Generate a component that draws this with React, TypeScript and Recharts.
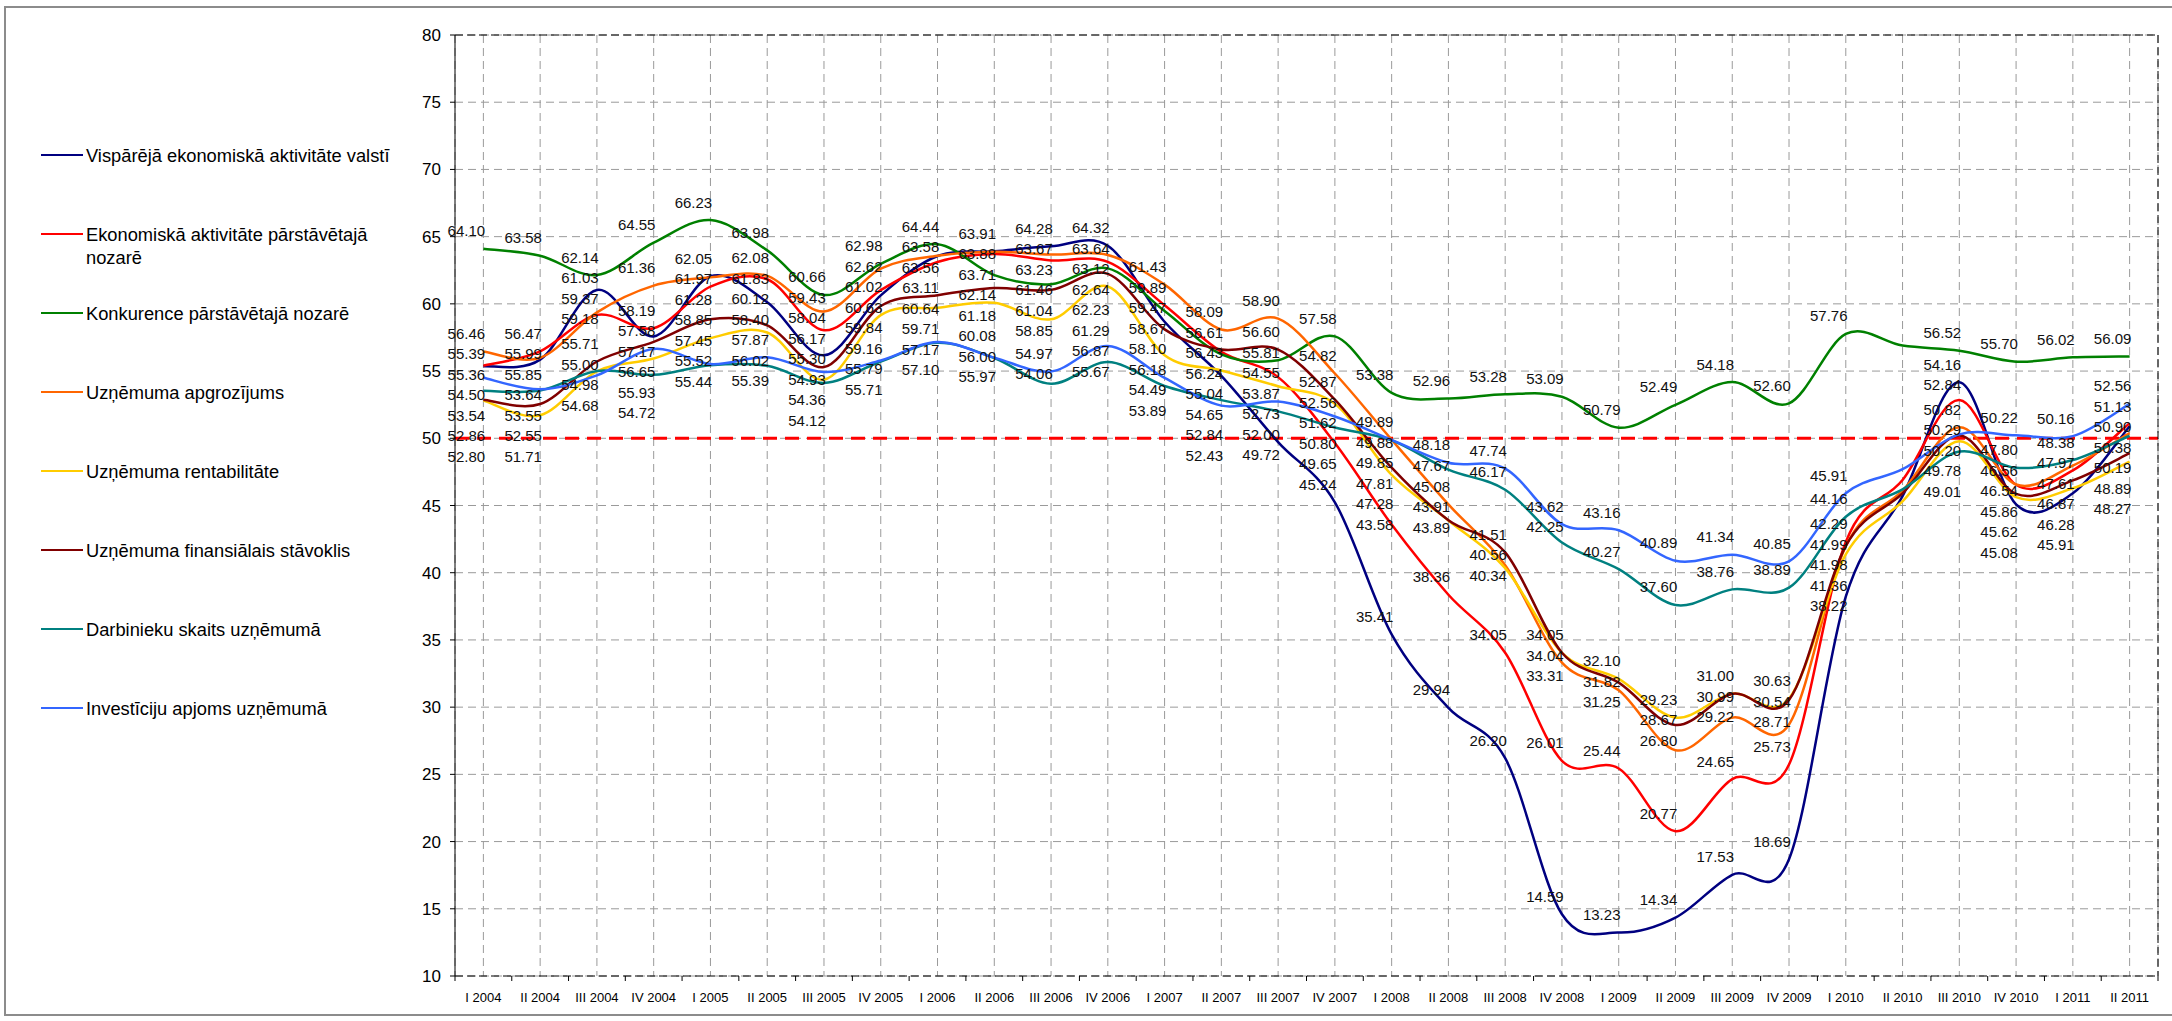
import React from "react";
import {
  LineChart,
  Line,
  XAxis,
  YAxis,
  CartesianGrid,
  ReferenceLine,
  LabelList,
} from "recharts";

const quarters = [
  "I 2004", "II 2004", "III 2004", "IV 2004",
  "I 2005", "II 2005", "III 2005", "IV 2005",
  "I 2006", "II 2006", "III 2006", "IV 2006",
  "I 2007", "II 2007", "III 2007", "IV 2007",
  "I 2008", "II 2008", "III 2008", "IV 2008",
  "I 2009", "II 2009", "III 2009", "IV 2009",
  "I 2010", "II 2010", "III 2010", "IV 2010",
  "I 2011", "II 2011",
];

// quarters whose points carry no value labels in the original
const unlabeled = ["II 2010"];

const economyCountry = [
  55.36, 55.85, 61.03, 57.58, 62.05, 60.12, 56.17, 60.63, 63.56, 63.91, 64.28, 64.32,
  58.67, 54.65, 49.72, 45.24, 35.41, 29.94, 26.2, 14.59, 13.23, 14.34, 17.53, 18.69,
  38.22, 45.7, 54.16, 45.08, 45.91, 50.9,
];
const economySector = [
  55.39, 56.47, 59.18, 58.19, 61.28, 61.83, 58.04, 61.02, 63.11, 63.71, 63.23, 63.12,
  59.89, 56.43, 54.55, 49.65, 43.58, 38.36, 34.05, 26.01, 25.44, 20.77, 24.65, 25.73,
  42.29, 46.9, 52.84, 46.54, 47.61, 51.13,
];
const competition = [
  64.1, 63.58, 62.14, 64.55, 66.23, 63.98, 60.66, 62.98, 64.44, 62.14, 61.46, 62.64,
  59.47, 56.24, 55.81, 57.58, 53.38, 52.96, 53.28, 53.09, 50.79, 52.49, 54.18, 52.6,
  57.76, 56.9, 56.52, 55.7, 56.02, 56.09,
];
const turnover = [
  56.46, 55.99, 59.37, 61.36, 61.97, 62.08, 59.43, 62.62, 63.58, 63.88, 63.67, 63.64,
  61.43, 58.09, 58.9, 54.82, 49.89, 45.08, 40.56, 33.31, 31.25, 26.8, 29.22, 28.71,
  41.98, 46.1, 50.82, 46.56, 47.97, 50.38,
];
const profitability = [
  52.8, 51.71, 54.98, 55.93, 57.45, 57.87, 54.36, 59.16, 59.71, 60.08, 58.85, 61.29,
  56.18, 55.04, 53.87, 52.56, 47.28, 43.89, 40.34, 34.04, 32.1, 29.23, 31.0, 30.63,
  41.36, 45.3, 49.78, 45.62, 46.28, 48.27,
];
const financial = [
  52.86, 52.55, 55.71, 57.17, 58.85, 58.4, 55.3, 59.84, 60.64, 61.18, 61.04, 62.23,
  58.1, 56.61, 56.6, 52.87, 47.81, 43.91, 41.51, 34.05, 31.82, 28.67, 30.99, 30.54,
  41.99, 45.9, 50.2, 45.86, 46.87, 48.89,
];
const employees = [
  53.54, 53.55, 55.0, 54.72, 55.44, 55.39, 54.12, 55.71, 57.1, 55.97, 54.06, 55.67,
  53.89, 52.84, 52.0, 50.8, 49.85, 47.67, 46.17, 42.25, 40.27, 37.6, 38.76, 38.89,
  44.16, 46.2, 49.01, 47.8, 48.38, 50.19,
];
const investment = [
  54.5, 53.64, 54.68, 56.65, 55.52, 56.02, 54.93, 55.79, 57.17, 56.0, 54.97, 56.87,
  54.49, 52.43, 52.73, 51.62, 49.88, 48.18, 47.74, 43.62, 43.16, 40.89, 41.34, 40.85,
  45.91, 47.7, 50.29, 50.22, 50.16, 52.56,
];

const seriesKeys = [
  "economyCountry", "economySector", "competition", "turnover",
  "profitability", "financial", "employees", "investment",
];
const seriesNames = [
  "Vispārējā ekonomiskā aktivitāte valstī",
  "Ekonomiskā aktivitāte pārstāvētajā nozarē",
  "Konkurence pārstāvētajā nozarē",
  "Uzņēmuma apgrozījums",
  "Uzņēmuma rentabilitāte",
  "Uzņēmuma finansiālais stāvoklis",
  "Darbinieku skaits uzņēmumā",
  "Investīciju apjoms uzņēmumā",
];
const seriesValues = [
  economyCountry, economySector, competition, turnover,
  profitability, financial, employees, investment,
];
const seriesColors = [
  "#000080", "#FF0000", "#008000", "#FF6600",
  "#FFCC00", "#800000", "#008080", "#3366FF",
];

const yTicks = [10, 15, 20, 25, 30, 35, 40, 45, 50, 55, 60, 65, 70, 75, 80];

const rows = quarters.map((q, i) => {
  const row: Record<string, any> = { q };
  seriesKeys.forEach((k, s) => (row[k] = seriesValues[s][i]));
  return row;
});

// chart geometry
const W = 2172;
const H = 1021;
const M = { top: 35, right: 13, bottom: 5, left: 395 };
const Y_AXIS_W = 60;
const X_AXIS_H = 40;
const PLOT_W = W - M.left - Y_AXIS_W - M.right - 1;
const PLOT_H = H - M.top - M.bottom - X_AXIS_H;
const BAND = PLOT_W / quarters.length;
const PX_PER_UNIT = PLOT_H / (yTicks[yTicks.length - 1] - yTicks[0]);

// Excel-like smoothed line (bezier through points, 1/6 tangents)
function smoothCurve(context: any) {
  let pts: number[][] = [];
  return {
    areaStart() {},
    areaEnd() {},
    lineStart() {
      pts = [];
    },
    lineEnd() {
      if (!pts.length) return;
      context.moveTo(pts[0][0], pts[0][1]);
      for (let i = 0; i < pts.length - 1; i++) {
        const p0 = pts[i - 1] || pts[i];
        const p1 = pts[i];
        const p2 = pts[i + 1];
        const p3 = pts[i + 2] || p2;
        context.bezierCurveTo(
          p1[0] + (p2[0] - p0[0]) / 6,
          p1[1] + (p2[1] - p0[1]) / 6,
          p2[0] - (p3[0] - p1[0]) / 6,
          p2[1] - (p3[1] - p1[1]) / 6,
          p2[0],
          p2[1]
        );
      }
    },
    point(x: number, y: number) {
      pts.push([+x, +y]);
    },
  };
}

// labels sit above their point; overlapping ones get pushed down in value order
const LABEL_GAP = 20.5;
const LABEL_LIFT = 18;
function stackColumn(vals: number[]): number[] {
  const items = vals
    .map((v, s) => ({ s, base: -v * PX_PER_UNIT }))
    .sort((a, b) => a.base - b.base);
  const out = new Array(vals.length).fill(0);
  let prev = -Infinity;
  for (const it of items) {
    const pos = Math.max(it.base - LABEL_LIFT, prev + LABEL_GAP);
    out[it.s] = pos - it.base;
    prev = pos;
  }
  return out;
}
const labelOffsets = quarters.map((_, i) => stackColumn(seriesValues.map((v) => v[i])));

const makeLabel = (s: number) => (props: any) => {
  const x = props.x ?? props.viewBox?.x;
  const y = props.y ?? props.viewBox?.y;
  const index = props.index;
  if (x == null || y == null || index == null) return null;
  if (unlabeled.includes(quarters[index])) return null;
  return (
    <text
      key={`l-${s}-${index}`}
      x={x - 17}
      y={y + labelOffsets[index][s]}
      textAnchor="middle"
      dominantBaseline="central"
      fontSize={15}
      fill="#111"
    >
      {Number(props.value).toFixed(2)}
    </text>
  );
};

function QuarterTick(props: any) {
  const { x, y, payload, index } = props;
  return (
    <g>
      <line x1={x - BAND / 2} x2={x - BAND / 2} y1={y} y2={y + 5} stroke="#000" />
      {index === quarters.length - 1 && (
        <line x1={x + BAND / 2} x2={x + BAND / 2} y1={y} y2={y + 5} stroke="#000" />
      )}
      <text x={x} y={y + 17} dy="0.71em" textAnchor="middle" fontSize={13} fill="#000">
        {payload.value}
      </text>
    </g>
  );
}

function SideLegend() {
  return (
    <div style={{ position: "absolute", left: 0, top: 0 }}>
      {seriesNames.map((name, s) => (
        <div key={name} style={{ position: "absolute", left: 41, top: 155 + s * 79 - 11.5, width: 400 }}>
          <div
            style={{
              position: "absolute",
              left: 0,
              top: 10.5,
              width: 42,
              height: 2,
              background: seriesColors[s],
            }}
          />
          <div
            style={{
              position: "absolute",
              left: 45,
              top: 0,
              width: 310,
              fontSize: 18.3,
              lineHeight: "23px",
              color: "#000",
            }}
          >
            {name}
          </div>
        </div>
      ))}
    </div>
  );
}

export default function App() {
  return (
    <div
      style={{
        position: "absolute",
        left: 0,
        top: 0,
        width: W,
        height: H,
        overflow: "hidden",
        background: "#fff",
        fontFamily: '"Liberation Sans", Arial, sans-serif',
      }}
    >
      <div
        style={{
          position: "absolute",
          left: 4,
          top: 6,
          width: W + 20,
          height: 1010,
          border: "2px solid #8c8c8c",
          boxSizing: "border-box",
        }}
      />
      <SideLegend />
      <div style={{ position: "absolute", left: 0, top: 0 }}>
        <LineChart width={W} height={H} data={rows} margin={M}>
          <CartesianGrid stroke="#9a9a9a" strokeDasharray="8 5" />
          <XAxis
            dataKey="q"
            scale="band"
            interval={0}
            height={X_AXIS_H}
            tickSize={0}
            tickMargin={0}
            tickLine={false}
            axisLine={{ stroke: "#000", strokeDasharray: "8 4" }}
            tick={<QuarterTick />}
          />
          <YAxis
            domain={[10, 80]}
            ticks={yTicks}
            interval={0}
            width={Y_AXIS_W}
            tickSize={5}
            tickMargin={9}
            axisLine={{ stroke: "#000" }}
            tickLine={{ stroke: "#000" }}
            tick={{ fill: "#000", fontSize: 17 }}
          />
          <YAxis
            yAxisId="edge"
            orientation="right"
            domain={[10, 80]}
            width={1}
            tick={false}
            tickLine={false}
            axisLine={{ stroke: "#000", strokeDasharray: "8 4" }}
          />
          <ReferenceLine y={80} stroke="#000" strokeDasharray="8 4" />
          <ReferenceLine y={50} stroke="#FF0000" strokeWidth={3} strokeDasharray="14 8" />
          {seriesKeys.map((k, s) => (
            <Line
              key={k}
              dataKey={k}
              name={seriesNames[s]}
              type={smoothCurve as any}
              stroke={seriesColors[s]}
              strokeWidth={2.5}
              dot={false}
              activeDot={false}
              isAnimationActive={false}
            >
              <LabelList dataKey={k} content={makeLabel(s)} />
            </Line>
          ))}
        </LineChart>
      </div>
    </div>
  );
}
